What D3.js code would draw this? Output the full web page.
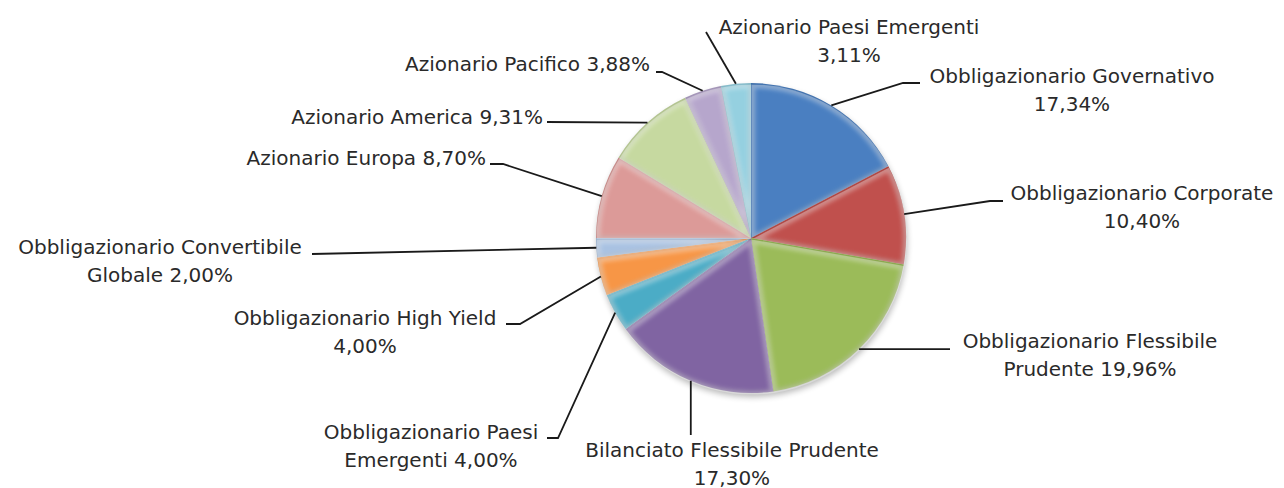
<!DOCTYPE html>
<html><head><meta charset="utf-8">
<script src="https://cdn.jsdelivr.net/npm/d3@7/dist/d3.min.js"></script>
<style>
html,body{margin:0;padding:0;background:#fff;}
svg{display:block;}
text{font-family:"DejaVu Sans",sans-serif;font-size:20px;fill:#2a2a2a;}
</style></head>
<body>
<svg id="chart" width="1284" height="488"></svg>
<script>
// ---- data ----
const categories = [
  "Obbligazionario Governativo",
  "Obbligazionario Corporate",
  "Obbligazionario Flessibile Prudente",
  "Bilanciato Flessibile Prudente",
  "Obbligazionario Paesi Emergenti",
  "Obbligazionario High Yield",
  "Obbligazionario Convertibile Globale",
  "Azionario Europa",
  "Azionario America",
  "Azionario Pacifico",
  "Azionario Paesi Emergenti"
];
const values = [17.34, 10.40, 19.96, 17.30, 4.00, 4.00, 2.00, 8.70, 9.31, 3.88, 3.11];
// how many words of the category stay on the first line (rest + value go to line 2); -1 = single line
const firstLineWords = [2, 2, 2, 3, 2, 3, 2, -1, -1, -1, 3];
const colors = ["#4a7fc1", "#c0504d", "#9bbb59", "#8064a2", "#4bacc6", "#f79646",
                "#a9c2e2", "#dc9a98", "#c6d9a0", "#b6a6cc", "#95d0e0"];

// ---- layout (annotation placement) ----
const cx = 751, cy = 238, R = 155;
const labelLayout = [
  {x: 1072, y: 76,  anchor: "middle", leader: [[903, 83], [920, 83]]},
  {x: 1142, y: 193, anchor: "middle", leader: [[990, 201], [1003, 201]]},
  {x: 1090, y: 341, anchor: "middle", leader: [[950, null]]},
  {x: 732,  y: 450, anchor: "middle", leader: [[null, 435]]},
  {x: 431,  y: 432, anchor: "middle", leader: [[558, 438], [547, 438]]},
  {x: 365,  y: 318, anchor: "middle", leader: [[520, 324], [506, 324]]},
  {x: 160,  y: 247, anchor: "middle", leader: [[312, 254]]},
  {x: 486,  y: 158, anchor: "end",    leader: [[503, 164], [490, 164]]},
  {x: 543,  y: 117, anchor: "end",    leader: [[547, 122]]},
  {x: 650,  y: 64,  anchor: "end",    leader: [[662, 72], [656, 72]]},
  {x: 849,  y: 27,  anchor: "middle", leader: [[706, 32]]}
];

const locale = d3.formatLocale({decimal: ",", thousands: ".", grouping: [3], currency: ["", "€"]});
const fmt = v => locale.format(".2f")(v) + "%";

const svg = d3.select("#chart");
const defs = svg.append("defs");
defs.append("filter").attr("id", "blur2").attr("x", "-20%").attr("y", "-20%").attr("width", "140%").attr("height", "140%")
  .append("feGaussianBlur").attr("stdDeviation", 2.2);
defs.append("filter").attr("id", "shadow").attr("x", "-20%").attr("y", "-20%").attr("width", "140%").attr("height", "140%")
  .append("feGaussianBlur").attr("stdDeviation", 3);

const pie = d3.pie().sort(null).value(d => d)(values);
const arc = d3.arc().innerRadius(0).outerRadius(R);
const g = svg.append("g").attr("transform", `translate(${cx},${cy})`);

g.append("circle").attr("cx", 1).attr("cy", 4).attr("r", R).attr("fill", "#000").attr("opacity", 0.28).attr("filter", "url(#shadow)");

pie.forEach((d, i) => {
  defs.append("clipPath").attr("id", "clip" + i).append("path").attr("d", arc(d));
});

const slices = g.selectAll("g.slice").data(pie).join("g").attr("class", "slice");
slices.append("path").attr("d", arc).attr("fill", (d, i) => colors[i]);
slices.append("path").attr("d", arc)
  .attr("clip-path", (d, i) => `url(#clip${i})`)
  .attr("fill", "none").attr("stroke", "#000").attr("stroke-opacity", 0.2).attr("stroke-width", 3)
  .attr("filter", "url(#blur2)");
slices.append("path").attr("d", arc)
  .attr("clip-path", (d, i) => `url(#clip${i})`)
  .attr("transform", "translate(0.5,1.5)")
  .attr("fill", "none").attr("stroke", "#fff").attr("stroke-opacity", 0.38).attr("stroke-width", 7)
  .attr("filter", "url(#blur2)");

const lines = svg.append("g");
pie.forEach((d, i) => {
  const a = (d.startAngle + d.endAngle) / 2;
  const p0 = [cx + R * Math.sin(a), cy - R * Math.cos(a)];
  const pts = [p0].concat(labelLayout[i].leader.map(p => [p[0] == null ? p0[0] : p[0], p[1] == null ? p0[1] : p[1]]));
  lines.append("path").attr("d", d3.line()(pts)).attr("fill", "none").attr("stroke", "#1a1a1a").attr("stroke-width", 1.8);
});

const labels = svg.append("g");
categories.forEach((c, i) => {
  const words = c.split(" ");
  const L = labelLayout[i];
  let rows;
  if (firstLineWords[i] < 0) rows = [c + " " + fmt(values[i])];
  else {
    const first = words.slice(0, firstLineWords[i]).join(" ");
    const rest = words.slice(firstLineWords[i]).join(" ");
    rows = [first, (rest ? rest + " " : "") + fmt(values[i])];
  }
  const t = labels.append("text").attr("text-anchor", L.anchor);
  rows.forEach((r, k) => {
    t.append("tspan").attr("x", L.x).attr("y", L.y + k * 27.5).attr("dy", "0.35em").text(r);
  });
});
</script>
</body></html>
